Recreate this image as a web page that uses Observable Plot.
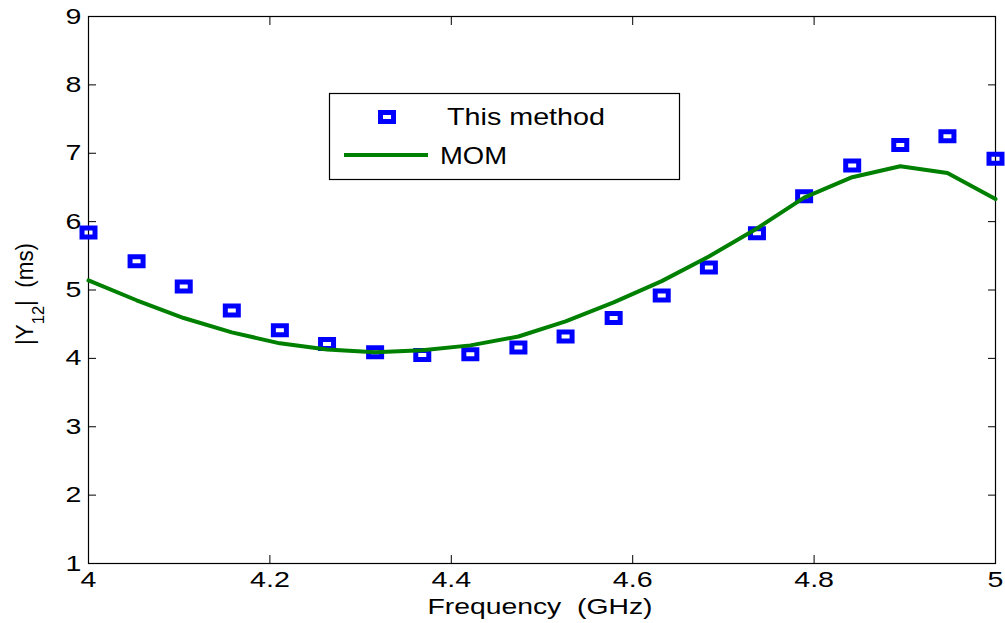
<!DOCTYPE html>
<html>
<head>
<meta charset="utf-8">
<script src="https://cdn.jsdelivr.net/npm/d3@7"></script>
<script src="https://cdn.jsdelivr.net/npm/@observablehq/plot@0.6"></script>
<style>
  html, body { margin: 0; padding: 0; background: #fff; }
  #chart svg { display: block; font-family: "Liberation Sans", Arial, sans-serif; }
</style>
</head>
<body>
<div id="chart"></div>
<script>
// Data
const freq = [4.000, 4.053, 4.105, 4.158, 4.211, 4.263, 4.316, 4.368, 4.421, 4.474,
              4.526, 4.579, 4.632, 4.684, 4.737, 4.789, 4.842, 4.895, 4.947, 5.000];
const thisMethod = [5.84, 5.42, 5.05, 4.70, 4.41, 4.21, 4.09, 4.05, 4.06, 4.16,
                    4.32, 4.59, 4.92, 5.33, 5.83, 6.37, 6.82, 7.12, 7.25, 6.92];
const mom = [5.14, 4.85, 4.59, 4.38, 4.22, 4.13, 4.09, 4.12, 4.19, 4.32,
             4.54, 4.82, 5.13, 5.49, 5.90, 6.35, 6.65, 6.81, 6.71, 6.33];
const xTicks = [4, 4.2, 4.4, 4.6, 4.8, 5];
const yTicks = [1, 2, 3, 4, 5, 6, 7, 8, 9];
const seriesNames = ["This method", "MOM"];
const xLabel = "Frequency  (GHz)";

const pts = freq.map((f, i) => ({f, v: thisMethod[i]}));
const line = freq.map((f, i) => ({f, v: mom[i]}));

const blue = "#0000ff", green = "#008000";
const rectSymbol = { draw(ctx) { ctx.rect(-6.5, -4.5, 13, 9); } };
const fmt = d => String(+d.toFixed(1));

const chart = Plot.plot({
  width: 1005, height: 623,
  marginLeft: 88, marginRight: 10, marginTop: 16, marginBottom: 60,
  style: { fontSize: "22px", fontFamily: "'Liberation Sans', Arial, sans-serif", color: "#000", background: "#fff" },
  x: { domain: [4, 5] },
  y: { domain: [1, 9] },
  marks: [
    Plot.frame({ stroke: "#000", strokeWidth: 1.2 }),
    Plot.axisX({ anchor: "bottom", ticks: xTicks, tickSize: -8, tickPadding: 16, tickFormat: fmt, label: null, stroke: "#000" }),
    Plot.axisX({ anchor: "top", ticks: xTicks, tickSize: -8, tickFormat: () => "", label: null }),
    Plot.axisY({ anchor: "left", ticks: yTicks, tickSize: -8, tickPadding: 15, tickFormat: fmt, label: null }),
    Plot.axisY({ anchor: "right", ticks: yTicks, tickSize: -8, tickFormat: () => "", label: null }),
    Plot.dot(pts, { x: "f", y: "v", symbol: rectSymbol, r: 1, stroke: blue, strokeWidth: 5, fill: "none" }),
    Plot.line(line, { x: "f", y: "v", stroke: green, strokeWidth: 4, curve: "linear" })
  ]
});
document.getElementById("chart").appendChild(chart);

// stretch tick labels horizontally like the reference
chart.querySelectorAll("text").forEach(t => {
  const L = t.getComputedTextLength();
  if (L > 0) { t.setAttribute("textLength", (L * 1.3).toFixed(1)); t.setAttribute("lengthAdjust", "spacingAndGlyphs"); }
});

const svg = d3.select(chart);
const font = "'Liberation Sans', Arial, sans-serif";
const fit = (sel, w) => sel.attr("textLength", w).attr("lengthAdjust", "spacingAndGlyphs");

// x axis label
fit(svg.append("text").attr("x", 540).attr("y", 614).attr("text-anchor", "middle")
  .attr("font-size", 22.5).attr("font-family", font).attr("fill", "#000").attr("xml:space", "preserve").text(xLabel), 225);

// y axis label |Y12| (ms)
const yl = svg.append("text").attr("transform", "translate(33,294) rotate(-90)").attr("text-anchor", "middle")
  .attr("font-size", 23).attr("font-family", font).attr("fill", "#000").attr("xml:space", "preserve");
yl.append("tspan").text("|Y");
yl.append("tspan").attr("font-size", 17).attr("dy", 11).text("12");
yl.append("tspan").attr("dy", -11).text("|  (ms)");
fit(yl, 102);

// legend
const lg = svg.append("g").attr("text-anchor", "start");
lg.append("rect").attr("x", 329.5).attr("y", 93.5).attr("width", 350).attr("height", 86)
  .attr("fill", "#fff").attr("stroke", "#000").attr("stroke-width", 1.2);
lg.append("rect").attr("x", 380.5).attr("y", 112.5).attr("width", 13).attr("height", 9)
  .attr("fill", "none").attr("stroke", blue).attr("stroke-width", 5);
fit(lg.append("text").attr("x", 447).attr("y", 125).attr("text-anchor", "start").attr("font-size", 24).attr("font-family", font).text(seriesNames[0]), 158);
lg.append("line").attr("x1", 344).attr("x2", 428).attr("y1", 155).attr("y2", 155)
  .attr("stroke", green).attr("stroke-width", 4);
fit(lg.append("text").attr("x", 440).attr("y", 164).attr("text-anchor", "start").attr("font-size", 24).attr("font-family", font).text(seriesNames[1]), 67);
</script>
</body>
</html>
